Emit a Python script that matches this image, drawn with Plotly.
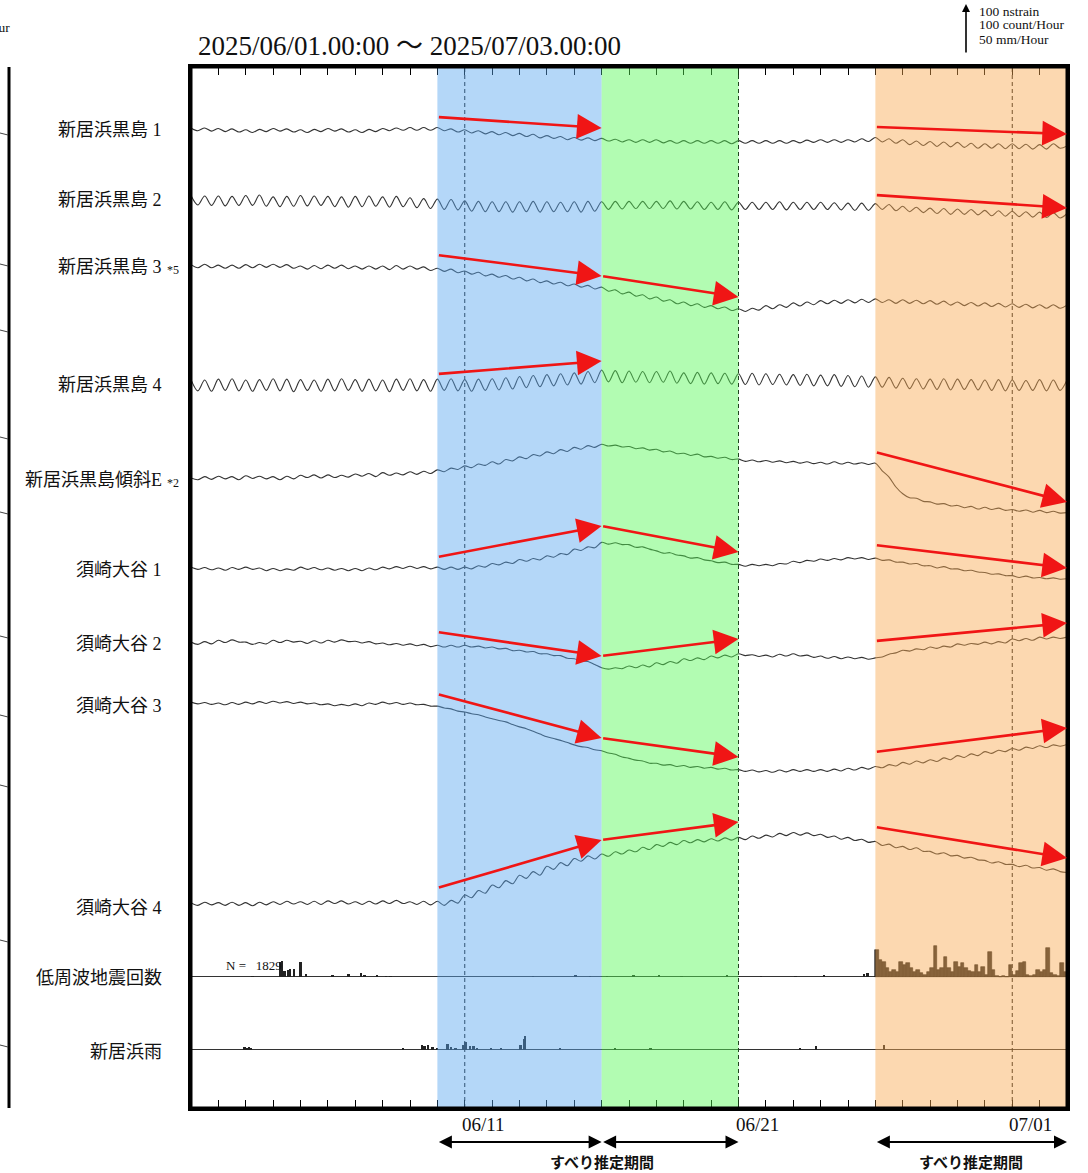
import pandas as pd
import plotly.graph_objects as go

# ---------------- data ----------------
START = "2025-06-01 00:00"
END = "2025-07-03 00:00"
STEP_HOURS = 6  # strain samples every 6 hours

# strain series (nstrain, relative to first sample)
kurojima_1 = [
    0, -6, 0, -7, -1, -8, -2, -9, -4, -10, -3, -8, -1, -7, -2, -9,
    -4, -10, -3, -8, -1, -7, -2, -9, -4, -10, -3, -8, -1, -6, 0, -5,
    1, -5, 1, -5, 1, -6, -2, -9, -4, -11, -6, -13, -8, -15, -10, -17,
    -12, -19, -14, -22, -17, -23, -19, -26, -21, -27, -22, -28, -23, -29, -25, -31,
    -26, -32, -26, -32, -26, -33, -28, -34, -28, -34, -28, -34, -28, -34, -28, -35,
    -28, -34, -28, -34, -28, -34, -28, -34, -28, -33, -27, -32, -26, -32, -26, -32,
    -26, -31, -24, -30, -21, -31, -24, -34, -26, -37, -29, -39, -30, -41, -31, -42,
    -32, -43, -34, -45, -35, -45, -35, -46, -35, -46, -36, -47, -37, -47, -35, -45,
    -40]
kurojima_2 = [
    10, -11, 9, -12, 9, -13, 8, -12, 10, -12, 11, -14, 7, -15, 8, -14,
    10, -13, 9, -12, 8, -15, 7, -16, 8, -15, 9, -14, 7, -16, 8, -15,
    5, -17, 3, -19, 2, -21, 1, -22, -2, -25, -3, -26, -4, -26, -4, -27,
    -4, -26, -3, -27, -4, -26, -5, -26, -4, -27, -3, -25, -4, -21, -3, -20,
    -3, -19, -3, -19, -3, -19, -2, -20, -3, -20, -4, -21, -5, -21, -4, -22,
    -5, -21, -5, -21, -5, -21, -4, -22, -5, -21, -5, -21, -5, -21, -6, -22,
    -7, -23, -7, -23, -8, -21, -10, -24, -14, -26, -16, -28, -18, -30, -19, -32,
    -20, -32, -21, -33, -23, -35, -24, -36, -25, -37, -26, -38, -27, -39, -28, -40,
    -30]
kurojima_3 = [
    3, -4, 4, -4, 2, -5, 2, -5, 3, -4, 4, -3, 4, -3, 3, -5,
    0, -7, 1, -6, 2, -5, 2, -6, 0, -7, 0, -7, 0, -8, 1, -7,
    0, -7, -2, -10, -5, -12, -7, -15, -11, -18, -14, -22, -18, -25, -21, -29,
    -25, -33, -29, -37, -33, -40, -36, -44, -40, -47, -43, -51, -47, -56, -53, -62,
    -58, -67, -64, -73, -69, -78, -75, -84, -80, -88, -84, -92, -88, -95, -91, -99,
    -95, -101, -94, -98, -88, -95, -86, -92, -82, -89, -80, -86, -77, -84, -76, -83,
    -75, -82, -74, -81, -73, -81, -75, -83, -75, -83, -76, -84, -77, -85, -78, -87,
    -80, -88, -81, -89, -82, -90, -83, -91, -84, -92, -85, -93, -86, -94, -86, -94,
    -87]
kurojima_4 = [
    12, -13, 11, -14, 13, -12, 14, -13, 11, -14, 12, -12, 14, -13, 13, -15,
    12, -12, 11, -14, 13, -13, 14, -12, 12, -14, 13, -13, 11, -15, 13, -12,
    14, -13, 12, -14, 13, -12, 14, -13, 12, -14, 13, -12, 14, -11, 16, -9,
    19, -6, 21, -4, 23, -2, 25, 0, 27, 2, 30, 5, 33, 7, 32, 5,
    31, 6, 30, 5, 30, 6, 31, 4, 27, 3, 28, 2, 27, 3, 26, 2,
    25, 1, 26, 0, 25, 1, 24, 0, 23, -1, 24, -2, 22, -2, 23, -3,
    21, -4, 20, -5, 18, -5, 17, -7, 15, -8, 14, -9, 13, -10, 14, -11,
    13, -10, 12, -11, 11, -12, 12, -13, 11, -12, 10, -12, 12, -13, 11, -12,
    11]
kurojima_tilt_e = [
    0, -4, 3, -3, 4, -2, 3, -4, 5, -1, 4, -2, 3, -4, 4, -2,
    6, 1, 7, 0, 7, 1, 6, 2, 9, 4, 10, 3, 12, 6, 11, 7,
    14, 8, 15, 10, 18, 14, 22, 19, 27, 23, 31, 28, 36, 31, 41, 38,
    47, 43, 52, 49, 58, 54, 63, 59, 68, 64, 72, 68, 75, 71, 73, 69,
    70, 65, 67, 62, 64, 58, 60, 54, 55, 50, 53, 47, 48, 44, 46, 41,
    42, 37, 40, 36, 39, 35, 38, 34, 37, 33, 36, 32, 35, 31, 36, 31,
    35, 31, 34, 30, 33, 16, 2, -20, -35, -44, -45, -52, -53, -58, -57, -62,
    -61, -66, -63, -69, -65, -70, -67, -72, -70, -74, -71, -76, -72, -77, -74, -78,
    -77]
susaki_1 = [
    2, -3, 1, -4, 0, -5, 1, -3, 2, -3, 0, -6, -1, -6, -2, -5,
    2, -3, 1, -4, 0, -5, -1, -6, -1, -6, 0, -4, 2, -2, 3, -1,
    4, -1, 3, -2, 2, -3, 2, -3, 2, -2, 5, 2, 10, 7, 13, 10,
    19, 15, 21, 18, 27, 24, 32, 30, 42, 39, 47, 45, 57, 53, 56, 52,
    52, 46, 47, 42, 38, 33, 34, 29, 27, 22, 23, 18, 16, 12, 13, 8,
    8, 4, 8, 5, 8, 5, 10, 9, 15, 12, 17, 15, 20, 17, 21, 18,
    23, 20, 23, 19, 22, 17, 18, 13, 13, 9, 10, 5, 5, 0, 3, -2,
    -2, -6, -5, -9, -10, -14, -13, -17, -17, -21, -18, -22, -21, -24, -22, -25,
    -24]
susaki_2 = [
    2, -3, 3, -2, 6, 1, 7, 2, 2, -3, 1, -2, 6, 1, 6, 2,
    4, -1, 5, 0, 6, 2, 7, 3, 4, 0, 3, -2, 0, -4, -1, -5,
    -2, -6, -3, -8, -5, -9, -5, -9, -5, -9, -7, -11, -9, -13, -12, -17,
    -16, -20, -19, -24, -24, -28, -28, -34, -35, -40, -41, -48, -55, -58, -55, -57,
    -51, -55, -49, -53, -44, -48, -41, -45, -35, -39, -33, -37, -29, -33, -27, -31,
    -24, -28, -26, -30, -27, -31, -25, -29, -24, -29, -27, -32, -29, -34, -30, -35,
    -31, -35, -32, -36, -33, -31, -25, -22, -16, -18, -13, -15, -9, -12, -7, -9,
    -2, -5, -1, -3, 2, -2, 3, 0, 9, 5, 10, 6, 13, 9, 13, 10,
    13]
susaki_3 = [
    2, -2, 1, -3, 0, -4, 1, -3, 2, -2, 3, -1, 4, 0, 3, -1,
    2, -2, 0, -4, -2, -6, -3, -6, -2, -6, 0, -3, 2, -2, 1, -3,
    0, -4, -3, -7, -7, -11, -13, -18, -20, -24, -26, -31, -35, -39, -42, -48,
    -53, -57, -63, -69, -75, -79, -83, -88, -93, -97, -99, -104, -106, -111, -114, -120,
    -123, -127, -129, -134, -134, -138, -137, -141, -139, -143, -141, -145, -143, -147, -145, -149,
    -148, -152, -149, -153, -150, -154, -149, -153, -148, -152, -148, -152, -148, -152, -147, -151,
    -145, -149, -143, -147, -141, -144, -137, -140, -132, -136, -129, -133, -126, -130, -122, -126,
    -117, -121, -113, -117, -108, -112, -105, -108, -101, -105, -98, -101, -95, -99, -93, -96,
    -92]
susaki_4 = [
    3, -3, 4, -2, 3, -3, 4, -3, 3, -4, 4, -2, 5, -1, 6, 0,
    5, -1, 6, -1, 7, 1, 7, 0, 5, -1, 6, 0, 7, 1, 8, 1,
    5, -1, 6, -2, 6, -3, 8, 2, 20, 14, 30, 24, 42, 36, 52, 45,
    64, 57, 72, 64, 84, 77, 92, 85, 101, 95, 107, 100, 111, 106, 116, 111,
    120, 116, 126, 121, 132, 128, 137, 132, 141, 136, 143, 138, 145, 140, 147, 142,
    148, 143, 151, 146, 153, 149, 157, 152, 159, 153, 158, 152, 155, 148, 151, 144,
    148, 141, 144, 137, 139, 130, 133, 125, 128, 121, 125, 117, 117, 111, 114, 107,
    108, 102, 104, 98, 97, 91, 94, 88, 88, 83, 86, 80, 81, 75, 78, 72,
    70]

strain_series = [kurojima_1, kurojima_2, kurojima_3, kurojima_4, kurojima_tilt_e,
                 susaki_1, susaki_2, susaki_3, susaki_4]
strain_labels = ["新居浜黒島 1", "新居浜黒島 2", "新居浜黒島 3", "新居浜黒島 4",
                 "新居浜黒島傾斜E", "須崎大谷 1", "須崎大谷 2", "須崎大谷 3", "須崎大谷 4"]
strain_notes = ["", "", "*5", "", "*2", "", "", "", ""]

# low-frequency earthquake counts (count/hour), hours since start
lfe_hours_early = [54, 78, 80, 82, 85, 87, 90, 96, 101, 124, 138, 149, 152, 163, 171, 175,
                   300, 337, 350, 365, 388, 410, 430, 470, 480, 500, 530, 555, 590, 593]
lfe_counts_early = [1, 33, 35, 12, 15, 16, 17, 33, 5, 2, 6, 7, 3, 4, 1, 1,
                    1, 2, 1, 1, 2, 2, 1, 2, 1, 1, 1, 2, 5, 7]
lfe_hours_late = list(range(600, 768, 3))
lfe_counts_late = [59, 37, 33, 18, 11, 15, 9, 33, 26, 30, 18, 11, 15, 7, 4, 9,
                   18, 67, 15, 18, 44, 20, 9, 33, 22, 30, 18, 13, 9, 26, 9, 22,
                   4, 55, 15, 2, 0, 2, 0, 26, 4, 13, 30, 33, 4, 2, 4, 15,
                   11, 15, 63, 7, 4, 2, 30, 11]
lfe_total = 1829

# rainfall (mm/hour), hours since start
rain_hours = [47, 49, 51, 53, 186, 203, 205, 208, 212, 216, 225, 228, 232, 239, 241,
              245, 248, 251, 263, 272, 289, 292, 293, 324, 372, 403, 534, 548, 608]
rain_mm = [3, 2, 3, 1, 1, 5, 4, 5, 3, 2, 6, 3, 2, 5, 8,
           4, 4, 2, 1, 1, 5, 12, 15, 1, 1, 1, 2, 4, 5]

# periods
periods = [("2025-06-10", "2025-06-16", "rgb(88,166,240)"),
           ("2025-06-16", "2025-06-21", "rgb(84,248,84)"),
           ("2025-06-26", "2025-07-03", "rgb(248,168,80)")]
dashed_dates = ["2025-06-11", "2025-06-21", "2025-07-01"]
tick_label_dates = ["2025-06-11", "2025-06-21", "2025-07-01"]
tick_labels = ["06/11", "06/21", "07/01"]

# trend arrows: (series index, start date, end date, start y px, end y px)
arrows = [
    (0, "2025-06-10", "2025-06-16", 117, 128), (0, "2025-06-26", "2025-07-03", 127, 134),
    (1, "2025-06-26", "2025-07-03", 195, 208),
    (2, "2025-06-10", "2025-06-16", 255, 276), (2, "2025-06-16", "2025-06-21", 276, 297),
    (3, "2025-06-10", "2025-06-16", 374, 361),
    (4, "2025-06-26", "2025-07-03", 452, 502),
    (5, "2025-06-10", "2025-06-16", 557, 526), (5, "2025-06-16", "2025-06-21", 526, 552),
    (5, "2025-06-26", "2025-07-03", 545, 568),
    (6, "2025-06-10", "2025-06-16", 632, 656), (6, "2025-06-16", "2025-06-21", 656, 639),
    (6, "2025-06-26", "2025-07-03", 641, 623),
    (7, "2025-06-10", "2025-06-16", 694, 738), (7, "2025-06-16", "2025-06-21", 738, 757),
    (7, "2025-06-26", "2025-07-03", 752, 728),
    (8, "2025-06-10", "2025-06-16", 888, 840), (8, "2025-06-16", "2025-06-21", 840, 822),
    (8, "2025-06-26", "2025-07-03", 827, 858),
]

# ---------------- layout geometry (page pixel coordinates) ----------------
W, H = 1088, 1173
L, R, T, B = 191, 1067, 67, 1108
PW, PH = R - L, B - T
PX_PER_UNIT = 45 / 100  # 100 nstrain = 45 px
YMAX = PH / PX_PER_UNIT
strain_rows_px = [128, 200, 266, 385, 478, 568, 643, 703, 904]
label_rows_px = [130, 200, 267, 385, 480, 570, 644, 706, 908]
lfe_row_px, rain_row_px = 976.5, 1049.5
RAIN_SCALE = 100 / 50  # 50 mm/Hour has the same length as 100 nstrain


def yv(py):
    return (B - py) / PX_PER_UNIT


def xp(px):
    return (px - L) / PW


def ypp(py):
    return (B - py) / PH


t0 = pd.Timestamp(START)
times = pd.date_range(START, periods=len(kurojima_1), freq=f"{STEP_HOURS}h")
SERIF = "Liberation Serif, Noto Sans CJK JP"
JP = "Liberation Serif, Noto Sans CJK JP"

fig = go.Figure()
for vals, row in zip(strain_series, strain_rows_px):
    base = yv(row)
    fig.add_trace(go.Scatter(x=times, y=[base + v for v in vals], mode="lines",
                             line=dict(color="#333333", width=1.1, shape="spline", smoothing=0.9),
                             hoverinfo="skip", showlegend=False))

HOUR_MS = 3600 * 1000
lfe_base = yv(lfe_row_px)
rain_base = yv(rain_row_px)
fig.add_trace(go.Bar(x=[t0 + pd.Timedelta(hours=h) for h in lfe_hours_early], y=lfe_counts_early,
                     base=lfe_base, width=2 * HOUR_MS, marker=dict(color="#222222", line=dict(width=0)),
                     showlegend=False, hoverinfo="skip"))
fig.add_trace(go.Bar(x=[t0 + pd.Timedelta(hours=h + 1.5) for h in lfe_hours_late], y=lfe_counts_late,
                     base=lfe_base, width=3 * HOUR_MS, marker=dict(color="#2a2a2a", line=dict(color="#111", width=0.6)),
                     showlegend=False, hoverinfo="skip"))
fig.add_trace(go.Bar(x=[t0 + pd.Timedelta(hours=h) for h in rain_hours], y=[m * RAIN_SCALE for m in rain_mm],
                     base=rain_base, width=1.6 * HOUR_MS, marker=dict(color="#222222", line=dict(width=0)),
                     showlegend=False, hoverinfo="skip"))

shapes = []
for row in (lfe_row_px, rain_row_px):
    shapes.append(dict(type="line", xref="paper", yref="paper", x0=0, x1=1, y0=ypp(row), y1=ypp(row),
                       line=dict(color="#333333", width=1), layer="below"))
for d in dashed_dates:
    shapes.append(dict(type="line", xref="x", yref="paper", x0=d, x1=d, y0=0, y1=1,
                       line=dict(color="#111111", width=1, dash="4px,3px"), layer="below"))
for x0, x1, col in periods:
    shapes.append(dict(type="rect", xref="x", yref="paper", x0=x0, x1=x1, y0=0, y1=1,
                       fillcolor=col, opacity=0.45, line=dict(width=0), layer="above"))
shapes.append(dict(type="rect", xref="paper", yref="paper", x0=0, x1=1, y0=0, y1=1,
                   line=dict(color="black", width=3), layer="above"))
# neighbouring panel edge at far left
shapes.append(dict(type="line", xref="paper", yref="paper", x0=xp(9), x1=xp(9), y0=0, y1=1,
                   line=dict(color="black", width=3), layer="above"))
for py in (133, 264, 330, 437, 512, 636, 715, 785, 940, 1045):
    shapes.append(dict(type="line", xref="paper", yref="paper", x0=xp(0), x1=xp(8), y0=ypp(py), y1=ypp(py + 2),
                       line=dict(color="#444", width=1), layer="above"))

ann = []
ann.append(dict(text="2025/06/01.00:00 〜 2025/07/03.00:00", xref="paper", yref="paper",
                x=xp(196), y=ypp(46), xanchor="left", yanchor="middle", showarrow=False,
                font=dict(family=SERIF, size=27, color="#111")))
for lab, note, py in zip(strain_labels, strain_notes, label_rows_px):
    ann.append(dict(text=lab, xref="paper", yref="paper", x=xp(164), y=ypp(py), xanchor="right",
                    yanchor="middle", showarrow=False, font=dict(family=JP, size=18, color="#111")))
    if note:
        ann.append(dict(text=note, xref="paper", yref="paper", x=xp(165), y=ypp(py + 3), xanchor="left",
                        yanchor="middle", showarrow=False, font=dict(family=SERIF, size=12, color="#111")))
ann.append(dict(text="低周波地震回数", xref="paper", yref="paper", x=xp(164), y=ypp(978), xanchor="right",
                yanchor="middle", showarrow=False, font=dict(family=JP, size=18, color="#111")))
ann.append(dict(text="新居浜雨", xref="paper", yref="paper", x=xp(164), y=ypp(1052), xanchor="right",
                yanchor="middle", showarrow=False, font=dict(family=JP, size=18, color="#111")))
ann.append(dict(text=f"N =   {lfe_total}", xref="paper", yref="paper", x=xp(224), y=ypp(965), xanchor="left",
                yanchor="middle", showarrow=False, font=dict(family=SERIF, size=13, color="#111")))
for d, t in zip(tick_label_dates, tick_labels):
    ann.append(dict(text=t, xref="x", yref="paper", x=d, y=ypp(1124), xanchor="left", xshift=-5,
                    yanchor="middle", showarrow=False, font=dict(family=SERIF, size=19, color="#111")))
for i, d0, d1, p0, p1 in arrows:
    ann.append(dict(text="", x=d1, y=yv(p1), ax=d0, ay=yv(p0), xref="x", yref="y", axref="x", ayref="y",
                    showarrow=True, arrowhead=2, arrowsize=1.9, arrowwidth=2.6, arrowcolor="#f01515",
                    standoff=0))
for d0, d1 in [("2025-06-10", "2025-06-16"), ("2025-06-16", "2025-06-21"), ("2025-06-26", "2025-07-03")]:
    ann.append(dict(text="", x=d1, y=ypp(1142), ax=d0, ay=0, xref="x", yref="paper",
                    axref="x", ayref="pixel", showarrow=True, arrowside="end+start", arrowhead=2,
                    startarrowhead=2, arrowsize=1.3, startarrowsize=1.3, arrowwidth=2, arrowcolor="black"))
for xc in ("2025-06-16 00:00", "2025-06-29 12:00"):
    ann.append(dict(text="<b>すべり推定期間</b>", xref="x", yref="paper", x=xc, y=ypp(1161), xanchor="center",
                    yanchor="middle", showarrow=False, font=dict(family="Noto Sans CJK JP", size=15, color="#111")))
ann.append(dict(text="", xref="paper", yref="paper", x=xp(966), y=ypp(4), axref="pixel", ayref="pixel",
                ax=0, ay=50, showarrow=True, arrowhead=2, arrowsize=1, arrowwidth=1.6, arrowcolor="black"))
for txt, py in [("100 nstrain", 11), ("100 count/Hour", 25), ("50 mm/Hour", 40)]:
    ann.append(dict(text=txt, xref="paper", yref="paper", x=xp(977), y=ypp(py), xanchor="left",
                    yanchor="middle", showarrow=False, font=dict(family=SERIF, size=13.5, color="#111")))
ann.append(dict(text="Hour", xref="paper", yref="paper", x=xp(12), y=ypp(27), xanchor="right",
                yanchor="middle", showarrow=False, font=dict(family=SERIF, size=13.5, color="#111")))

fig.update_layout(
    width=W, height=H,
    margin=dict(l=L, r=W - R, t=T, b=H - B, pad=0),
    paper_bgcolor="white", plot_bgcolor="white", barmode="overlay", bargap=0,
    shapes=shapes, annotations=ann, showlegend=False,
    xaxis=dict(type="date", range=[START, END], tickmode="linear", tick0=START, dtick=86400000,
               ticks="inside", ticklen=8, tickwidth=1.2, tickcolor="black", showticklabels=False,
               mirror="allticks", showline=True, linecolor="black", linewidth=3,
               showgrid=False, zeroline=False, fixedrange=True),
    yaxis=dict(range=[0, YMAX], showticklabels=False, showgrid=False, zeroline=False, ticks="",
               showline=True, mirror=True, linecolor="black", linewidth=3, fixedrange=True),
)

# place the figure flush with the page corner so it fills the window exactly
fig.write_html("out.html", config={"displayModeBar": False},
               post_script="document.body.style.margin='0';document.body.style.overflow='hidden';")
